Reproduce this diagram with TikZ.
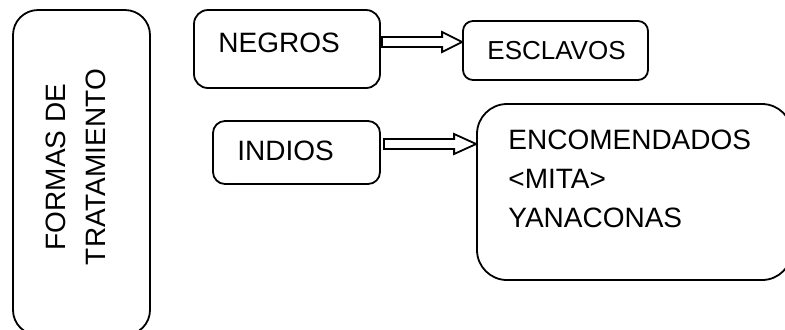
\documentclass[tikz,border=0pt]{standalone}
\usepackage{fontspec}
\setmainfont{Liberation Sans}
\usepackage{tikz}
\usetikzlibrary{positioning,calc}
\tikzset{box/.style={draw,line width=0.9pt,rounded corners=#1},
         box/.default=7pt,
         lbl/.style={inner sep=0pt,font=\fontsize{14}{19.5}\selectfont},
         hollow/.style={draw,line width=0.9pt,line join=miter}
}
% hollow arrow: start, tip, head length
\newcommand{\hollowarrow}[3]{%
  \draw[hollow] let \p1=#1, \p2=#2 in
    (\x1,\y1+2.5pt) -- (\x2-#3,\y1+2.5pt) -- (\x2-#3,\y1+5pt) -- (\x2,\y1)
    -- (\x2-#3,\y1-5pt) -- (\x2-#3,\y1-2.5pt) -- (\x1,\y1-2.5pt) -- cycle;}

\begin{document}
\begin{tikzpicture}[x=0.5pt,y=-0.5pt]
  \useasboundingbox (0,0) rectangle (785,329);
  \node[box=12.5pt,minimum width=68.5pt,minimum height=162.5pt] (formas) at (81.5,172.5) {};
  \node[lbl,rotate=90,align=center,font=\fontsize{14}{20}\selectfont] (formastxt) at (76,167) {FORMAS DE\\TRATAMIENTO};
  \node[box,minimum width=93pt,minimum height=39pt] (negros) at (287,49) {};
  \node[lbl,anchor=base west] (negrostxt) at (218,52) {NEGROS};
  \node[box=5pt,minimum width=92.5pt,minimum height=29.5pt] (esclavos) at (555.5,50.5) {};
  \node[lbl,anchor=base west,font=\fontsize{13}{16}\selectfont] (esclavostxt) at (487,59) {ESCLAVOS};
  \node[box=6pt,minimum width=83.5pt,minimum height=31.5pt] (indios) at (296.5,152.5) {};
  \node[lbl,anchor=base west] (indiostxt) at (237,160) {INDIOS};
  \node[box=15pt,minimum width=157.5pt,minimum height=88pt] (encom) at (634.5,192) {};
  \node[lbl,anchor=north west,align=left] (encomtxt) at (508,129.5) {ENCOMENDADOS\\<MITA>\\YANACONAS};
  \hollowarrow{([yshift=3.5pt,xshift=0.5pt]negros.east)}{(esclavos.west)}{10pt}
  \hollowarrow{([yshift=4.25pt,xshift=1.5pt]indios.east)}{(encom.west)}{11pt}
\end{tikzpicture}
\end{document}
